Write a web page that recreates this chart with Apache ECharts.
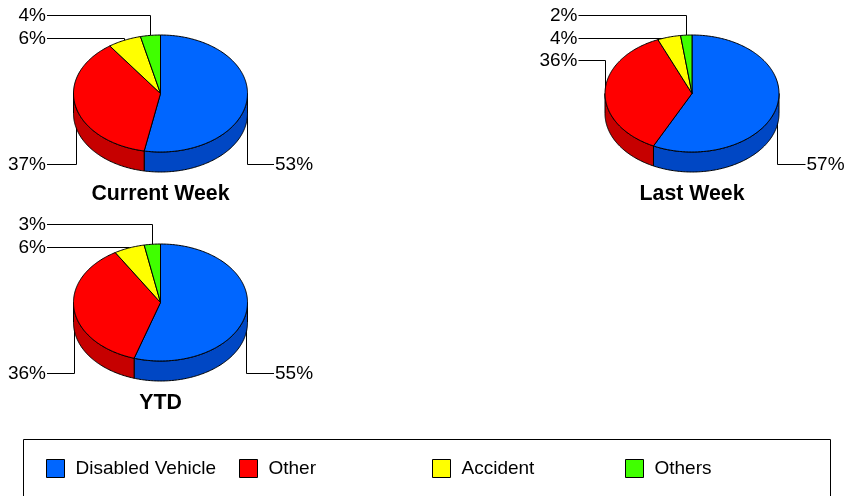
<!DOCTYPE html>
<html>
<head>
<meta charset="utf-8">
<style>html,body{margin:0;padding:0;background:#fff}#chartmain{width:845px;height:496px}</style>
<script src="https://cdn.jsdelivr.net/npm/echarts@6/dist/echarts.min.js"></script>
</head>
<body>
<div id="chartmain"></div>
<script>
var categories = ['Disabled Vehicle', 'Other', 'Accident', 'Others'];
var pieNames = ['Current Week', 'Last Week', 'YTD'];
// shares per pie, same order as pieNames
var disabledVehicle = [53.0, 57.3, 54.9];
var other = [37.1, 36.3, 36.4];
var accident = [6.2, 4.3, 5.7];
var others = [3.7, 2.1, 3.0];
var seriesValues = [disabledVehicle, other, accident, others];

var topColors = ['#0066ff', '#ff0000', '#ffff00', '#40ff00'];
var sideColors = ['#0047c4', '#c60000', '#c6c600', '#2fc600'];

// layout of each pie and the label row of each category in it
var pies = [
	{ cx: 160.5, cy: 93.5, labelY: [164.5, 164.5, 38.5, 15.5], titleTop: 184 },
	{ cx: 692, cy: 93.5, labelY: [164.5, 60.5, 38.5, 15.5], titleTop: 184 },
	{ cx: 160.5, cy: 302.5, labelY: [373.5, 373.5, 247.5, 224.5], titleTop: 393 }
];
var rx = 87, ry = 58.5, depth = 20, labelOffset = 113.5;
var legendLeft = [46, 239, 432, 625];

function rimPoint(pie, deg, drop) {
	var t = deg * Math.PI / 180;
	return [pie.cx + rx * Math.sin(t), pie.cy - ry * Math.cos(t) + (drop || 0)];
}

// start and end angle of one slice, clockwise from the top
function sliceAngles(catIdx, pieIdx) {
	var total = 0, before = 0;
	seriesValues.forEach(function(vals, i) {
		total += vals[pieIdx];
		if (i < catIdx) before += vals[pieIdx];
	});
	return [before / total * 360, (before + seriesValues[catIdx][pieIdx]) / total * 360];
}

function arcPoints(pie, a0, a1, drop) {
	var pts = [], n = Math.max(2, Math.ceil(Math.abs(a1 - a0)));
	for (var i = 0; i <= n; i++) pts.push(rimPoint(pie, a0 + (a1 - a0) * i / n, drop));
	return pts;
}

function renderSlice(catIdx) {
	return function(params, api) {
		var pieIdx = api.value(0), pie = pies[pieIdx];
		var ang = sliceAngles(catIdx, pieIdx);
		var line = { stroke: '#000', lineWidth: 1, lineJoin: 'round' };
		var children = [];
		// front wall, only the part between 90 and 270 degrees shows
		var f0 = Math.max(ang[0], 90), f1 = Math.min(ang[1], 270);
		if (f1 > f0) {
			var wall = arcPoints(pie, f0, f1, 0).concat(arcPoints(pie, f1, f0, depth));
			children.push({
				type: 'polygon',
				shape: { points: wall },
				style: Object.assign({ fill: sideColors[catIdx] }, line)
			});
		}
		var top = [[pie.cx, pie.cy]].concat(arcPoints(pie, ang[0], ang[1], 0));
		children.push({
			type: 'polygon',
			shape: { points: top },
			style: Object.assign({ fill: topColors[catIdx] }, line)
		});
		return { type: 'group', children: children };
	};
}

// leader line from the slice middle out to its label
function renderLeader(params, api) {
	var catIdx = api.value(0), pieIdx = api.value(1), pie = pies[pieIdx];
	var ang = sliceAngles(catIdx, pieIdx);
	var p = rimPoint(pie, (ang[0] + ang[1]) / 2, 0);
	var y = pie.labelY[catIdx];
	var right = p[0] > pie.cx;
	var endX = pie.cx + (right ? labelOffset : -labelOffset);
	return {
		type: 'group',
		children: [{
			type: 'polyline',
			shape: { points: [[Math.round(p[0]) + 0.5, p[1]], [Math.round(p[0]) + 0.5, y], [endX, y]] },
			style: { stroke: '#000', lineWidth: 1, fill: null }
		}, {
			type: 'text',
			style: {
				x: endX + (right ? 1 : -1),
				y: y + 0.5,
				text: Math.round(seriesValues[catIdx][pieIdx]) + '%',
				fill: '#000',
				font: '19px "Liberation Sans"',
				align: right ? 'left' : 'right',
				verticalAlign: 'middle'
			}
		}]
	};
}

var leaderData = [];
categories.forEach(function(c, catIdx) {
	pieNames.forEach(function(n, pieIdx) { leaderData.push([catIdx, pieIdx]); });
});

var series = [{
	name: 'leaders',
	type: 'custom',
	coordinateSystem: 'none',
	silent: true,
	z: 1,
	renderItem: renderLeader,
	data: leaderData
}];
categories.forEach(function(name, catIdx) {
	series.push({
		name: name,
		type: 'custom',
		coordinateSystem: 'none',
		z: 2,
		itemStyle: { color: topColors[catIdx] },
		renderItem: renderSlice(catIdx),
		data: pieNames.map(function(n, pieIdx) { return [pieIdx, seriesValues[catIdx][pieIdx]]; })
	});
});

var option = {
	animation: false,
	backgroundColor: '#fff',
	title: pieNames.map(function(n, i) {
		return {
			text: n,
			left: pies[i].cx,
			top: pies[i].titleTop,
			textAlign: 'center',
			padding: 0,
			textStyle: { fontFamily: 'Liberation Sans', fontWeight: 'bold', fontSize: 21.3, color: '#000' }
		};
	}),
	tooltip: { show: false },
	// one legend per category, the entries sit in even columns
	legend: categories.map(function(name, i) {
		return {
			data: [name],
			left: legendLeft[i],
			top: 459,
			padding: 0,
			itemWidth: 18,
			itemHeight: 18,
			icon: 'rect',
			itemStyle: { borderColor: '#000', borderWidth: 1 },
			textStyle: {
				fontFamily: 'Liberation Sans',
				fontSize: 19,
				color: '#000',
				padding: [0, 0, 0, 6]
			}
		};
	}),
	graphic: [{
		type: 'polyline',
		shape: { points: [[23.5, 496], [23.5, 439.5], [830.5, 439.5], [830.5, 496]] },
		style: { stroke: '#000', lineWidth: 1, fill: null }
	}],
	series: series
};

var myChart = echarts.init(document.getElementById('chartmain'));
myChart.setOption(option);
</script>
</body>
</html>
